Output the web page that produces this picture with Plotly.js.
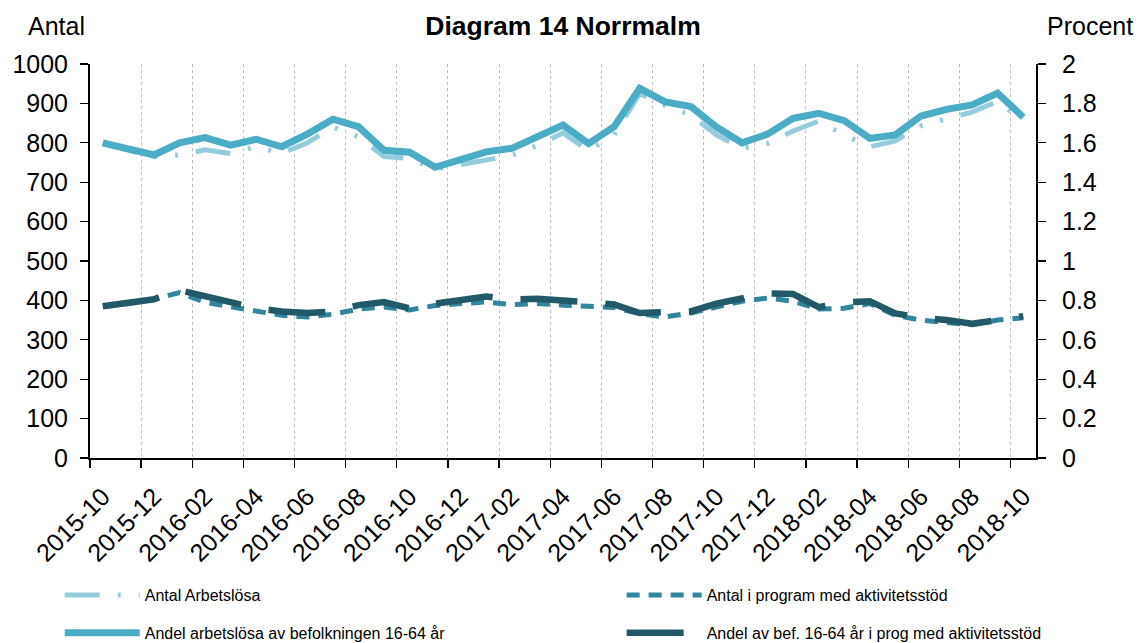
<!DOCTYPE html>
<html>
<head>
<meta charset="utf-8">
<script src="https://cdn.plot.ly/plotly-3.0.1.min.js"></script>
<style>html,body{margin:0;padding:0;background:#fff;}#chart{width:1139px;height:643px;}</style>
</head>
<body>
<div id="chart"></div>
<script>
const months = ['2015-10','2015-11','2015-12','2016-01','2016-02','2016-03','2016-04','2016-05','2016-06','2016-07','2016-08','2016-09','2016-10','2016-11','2016-12','2017-01','2017-02','2017-03','2017-04','2017-05','2017-06','2017-07','2017-08','2017-09','2017-10','2017-11','2017-12','2018-01','2018-02','2018-03','2018-04','2018-05','2018-06','2018-07','2018-08','2018-09','2018-10'];

const antalArbetslosa = [798,782,765,769,782,773,790,773,800,840,815,765,760,733,745,757,768,793,825,780,820,925,895,870,820,786,798,830,855,820,790,805,843,861,878,905,855];
const antalProgram = [385,392,403,420,395,383,374,362,358,365,378,383,376,387,392,396,389,392,388,385,382,366,358,368,384,398,406,398,378,380,392,362,350,345,338,350,356];
const andelArbetslosa = [1.60,1.57,1.538,1.60,1.626,1.588,1.618,1.58,1.644,1.72,1.682,1.562,1.552,1.476,1.514,1.554,1.572,1.628,1.69,1.596,1.682,1.876,1.808,1.784,1.68,1.60,1.644,1.724,1.75,1.712,1.622,1.64,1.736,1.77,1.792,1.852,1.73];
const andelProgram = [0.77,0.786,0.806,0.852,0.822,0.794,0.76,0.744,0.736,0.744,0.776,0.792,0.76,0.784,0.804,0.82,0.804,0.808,0.80,0.788,0.78,0.736,0.736,0.744,0.784,0.81,0.836,0.832,0.766,0.79,0.796,0.734,0.712,0.70,0.682,0.70,0.72];

const seriesNames = ['Antal Arbetslösa','Antal i program med aktivitetsstöd','Andel arbetslösa av befolkningen 16-64 år','Andel av bef. 16-64 år i prog med aktivitetsstöd'];

const FONT = '"Liberation Sans", Arial, Helvetica, sans-serif';

const traces = [
  {x: months, y: antalArbetslosa, name: seriesNames[0], type:'scatter', mode:'lines', yaxis:'y', xaxis:'x',
   line:{color:'#93CDDD', width:5, dash:'35px,18px,3px,18px,3px,18px'}, legend:'legend', legendgroup:'a'},
  {x: months, y: antalProgram, name: seriesNames[1], type:'scatter', mode:'lines', yaxis:'y', xaxis:'x',
   line:{color:'#31859C', width:5, dash:'13px,9px'}, legend:'legend2', legendgroup:'c'},
  {x: months, y: andelArbetslosa, name: seriesNames[2], type:'scatter', mode:'lines', yaxis:'y2', xaxis:'x',
   line:{color:'#4BACC6', width:7}, legend:'legend', legendgroup:'b'},
  {x: months, y: andelProgram, name: seriesNames[3], type:'scatter', mode:'lines', yaxis:'y2', xaxis:'x',
   line:{color:'#215968', width:6.5, dash:'57px,28px'}, legend:'legend2', legendgroup:'d'}
];

const layout = {
  width:1139, height:643,
  margin:{l:90, r:103, t:64, b:185, autoexpand:false},
  paper_bgcolor:'#fff', plot_bgcolor:'#fff',
  font:{family:FONT, color:'#000', size:16},
  title:{text:'<b>Diagram 14 Norrmalm</b>', font:{family:FONT, size:26.5, color:'#000'}, x:0.5, xref:'paper', xanchor:'center', y:1-26/643, yref:'container', yanchor:'middle'},
  showlegend:true,
  xaxis:{type:'category', range:[-0.5,36.5], tickson:'boundaries', tickmode:'linear', tick0:0, dtick:2,
    tickangle:-45, ticks:'outside', ticklen:8, tickwidth:1.3, tickcolor:'#000', automargin:false, ticklabelstandoff:12,
    showline:true, linecolor:'#000', linewidth:2, showgrid:true, gridcolor:'#bdbdbd', griddash:'dot', gridwidth:1,
    zeroline:false, tickfont:{family:FONT, size:25, color:'#000'}, fixedrange:true},
  xaxis3:{overlaying:'x', anchor:'y', type:'linear', range:[-0.5,36.5], tickmode:'linear', tick0:-0.5, dtick:2,
    ticks:'inside', ticklen:8, tickwidth:1.3, tickcolor:'#000', showticklabels:false, showline:false, showgrid:false, zeroline:false},
  xaxis4:{overlaying:'x', anchor:'y', side:'top', type:'linear', range:[0,1], ticks:'', showticklabels:false,
    showline:true, linecolor:'#8c8c8c', linewidth:2, showgrid:false, zeroline:false},
  yaxis:{range:[0,1000], tickmode:'linear', tick0:0, dtick:100, ticks:'outside', ticklen:8, tickwidth:1.3, tickcolor:'#000',
    showline:true, linecolor:'#000', linewidth:2, showgrid:false, zeroline:false, automargin:false,
    tickfont:{family:FONT, size:25, color:'#000'}, ticklabelstandoff:7, fixedrange:true},
  yaxis2:{overlaying:'y', side:'right', anchor:'x', range:[0,2], tickmode:'linear', tick0:0, dtick:0.2,
    ticks:'outside', ticklen:8, tickwidth:1.3, tickcolor:'#000', automargin:false,
    showline:true, linecolor:'#000', linewidth:2, showgrid:false, zeroline:false,
    tickfont:{family:FONT, size:25, color:'#000'}, ticklabelstandoff:11, fixedrange:true},
  yaxis3:{overlaying:'y', side:'left', anchor:'x', range:[0,1000], tickmode:'linear', tick0:0, dtick:100,
    ticks:'inside', ticklen:8, tickwidth:1.3, tickcolor:'#000', showticklabels:false, showline:false, showgrid:false, zeroline:false},
  yaxis4:{overlaying:'y', side:'right', anchor:'x', range:[0,2], tickmode:'linear', tick0:0, dtick:0.2,
    ticks:'inside', ticklen:8, tickwidth:1.3, tickcolor:'#000', showticklabels:false, showline:false, showgrid:false, zeroline:false},
  legend:{x:-0.032, xanchor:'left', y:-0.305, yanchor:'top', orientation:'v', traceorder:'grouped', tracegroupgap:14,
    font:{family:FONT, size:16, color:'#000'}, itemwidth:75, bgcolor:'rgba(0,0,0,0)', borderwidth:0},
  legend2:{x:0.562, xanchor:'left', y:-0.305, yanchor:'top', orientation:'v', traceorder:'grouped', tracegroupgap:14,
    font:{family:FONT, size:16, color:'#000'}, itemwidth:75, bgcolor:'rgba(0,0,0,0)', borderwidth:0},
  annotations:[
    {text:'Antal', xref:'paper', yref:'paper', x:(26-90)/946, y:(458-26)/394, xanchor:'left', yanchor:'middle', showarrow:false, font:{family:FONT, size:25, color:'#000'}},
    {text:'Procent', xref:'paper', yref:'paper', x:(1045-90)/946, y:(458-26)/394, xanchor:'left', yanchor:'middle', showarrow:false, font:{family:FONT, size:25, color:'#000'}}
  ]
};

Plotly.newPlot('chart', traces, layout, {displayModeBar:false, staticPlot:true});
</script>
</body>
</html>
